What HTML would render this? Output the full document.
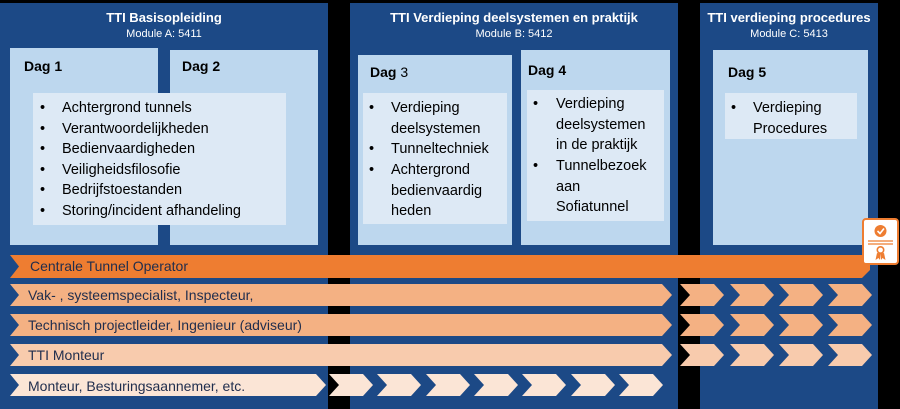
<!DOCTYPE html>
<html><head><style>
html,body{margin:0;padding:0;background:#000;}
svg{display:block;font-family:"Liberation Sans",sans-serif;}
</style></head><body>
<svg width="900" height="409" viewBox="0 0 900 409" xmlns="http://www.w3.org/2000/svg">
<rect width="900" height="409" fill="#000"/>
<!-- panels -->
<rect x="0" y="3" width="328" height="406" fill="#1c4986"/>
<rect x="350" y="3" width="328" height="406" fill="#1c4986"/>
<rect x="700" y="3" width="178" height="406" fill="#1c4986"/>
<g fill="#fff" text-anchor="middle">
<text x="164" y="22" font-size="13" font-weight="bold">TTI Basisopleiding</text>
<text x="164" y="37" font-size="11">Module A: 5411</text>
<text x="514" y="22" font-size="13" font-weight="bold">TTI Verdieping deelsystemen en praktijk</text>
<text x="514" y="37" font-size="11">Module B: 5412</text>
<text x="789" y="22" font-size="13" font-weight="bold">TTI verdieping procedures</text>
<text x="789" y="37" font-size="11">Module C: 5413</text>
</g>
<!-- dag boxes -->
<g fill="#bdd7ee">
<rect x="10" y="48" width="148" height="197"/>
<rect x="170" y="50" width="148" height="195"/>
<rect x="358" y="55" width="154" height="190"/>
<rect x="521" y="50" width="149" height="195"/>
<rect x="713" y="50" width="155" height="195"/>
</g>
<g fill="#dde9f5">
<rect x="33" y="93" width="253" height="132"/>
<rect x="363" y="93" width="144" height="131"/>
<rect x="527" y="90" width="137" height="131"/>
<rect x="725" y="93" width="132" height="46"/>
</g>
<g fill="#000" font-size="14" font-weight="bold">
<text x="24" y="71">Dag 1</text>
<text x="182" y="71">Dag 2</text>
<text x="370" y="77">Dag <tspan font-weight="normal">3</tspan></text>
<text x="528" y="75">Dag 4</text>
<text x="728" y="77">Dag 5</text>
</g>
<g fill="#000" font-size="14.5">
<g>
<text x="40" y="112">•</text><text x="62" y="112">Achtergrond tunnels</text>
<text x="40" y="133">•</text><text x="62" y="133">Verantwoordelijkheden</text>
<text x="40" y="153">•</text><text x="62" y="153">Bedienvaardigheden</text>
<text x="40" y="174">•</text><text x="62" y="174">Veiligheidsfilosofie</text>
<text x="40" y="194">•</text><text x="62" y="194">Bedrijfstoestanden</text>
<text x="40" y="215">•</text><text x="62" y="215">Storing/incident afhandeling</text>
</g>
<g>
<text x="369" y="112">•</text><text x="391" y="112">Verdieping</text>
<text x="391" y="133">deelsystemen</text>
<text x="369" y="153">•</text><text x="391" y="153">Tunneltechniek</text>
<text x="369" y="174">•</text><text x="391" y="174">Achtergrond</text>
<text x="391" y="195">bedienvaardig</text>
<text x="391" y="215">heden</text>
</g>
<g>
<text x="533" y="108">•</text><text x="556" y="108">Verdieping</text>
<text x="556" y="129">deelsystemen</text>
<text x="556" y="149">in de praktijk</text>
<text x="533" y="170">•</text><text x="556" y="170">Tunnelbezoek</text>
<text x="556" y="191">aan</text>
<text x="556" y="211">Sofiatunnel</text>
</g>
<g>
<text x="731" y="112">•</text><text x="753" y="112">Verdieping</text>
<text x="753" y="133">Procedures</text>
</g>
</g>
<!-- bars -->
<polygon points="10,255 870,255 870,270 862,278 10,278 19,266.5" fill="#ee7d31"/>
<g fill="#f4b183">
<polygon points="10,284 662,284 672,295 662,306 10,306 19,295"/>
<polygon points="10,314 662,314 672,325 662,336 10,336 19,325"/>
</g>
<polygon points="10,344 662,344 672,355 662,366 10,366 19,355" fill="#f8cbad"/>
<polygon points="10,374 316,374 326,385 316,396 10,396 19,385" fill="#fbe5d6"/>
<g fill="#f4b183" id="c1">
<polygon points="680,284 714,284 724,295 714,306 680,306 690,295"/>
<polygon points="730,284 764,284 774,295 764,306 730,306 740,295"/>
<polygon points="779,284 813,284 823,295 813,306 779,306 789,295"/>
<polygon points="828,284 862,284 872,295 862,306 828,306 838,295"/>
<polygon points="680,314 714,314 724,325 714,336 680,336 690,325"/>
<polygon points="730,314 764,314 774,325 764,336 730,336 740,325"/>
<polygon points="779,314 813,314 823,325 813,336 779,336 789,325"/>
<polygon points="828,314 862,314 872,325 862,336 828,336 838,325"/>
</g>
<g fill="#f8cbad">
<polygon points="680,344 714,344 724,355 714,366 680,366 690,355"/>
<polygon points="730,344 764,344 774,355 764,366 730,366 740,355"/>
<polygon points="779,344 813,344 823,355 813,366 779,366 789,355"/>
<polygon points="828,344 862,344 872,355 862,366 828,366 838,355"/>
</g>
<g fill="#fbe5d6">
<polygon points="329,374 363,374 373,385 363,396 329,396 339,385"/>
<polygon points="377,374 411,374 421,385 411,396 377,396 387,385"/>
<polygon points="426,374 460,374 470,385 460,396 426,396 436,385"/>
<polygon points="474,374 508,374 518,385 508,396 474,396 484,385"/>
<polygon points="522,374 556,374 566,385 556,396 522,396 532,385"/>
<polygon points="571,374 605,374 615,385 605,396 571,396 581,385"/>
<polygon points="619,374 653,374 663,385 653,396 619,396 629,385"/>
</g>
<g fill="#1f2d4d" font-size="14">
<text x="30" y="271">Centrale Tunnel Operator</text>
<text x="28" y="300">Vak- , systeemspecialist, Inspecteur,</text>
<text x="28" y="330">Technisch projectleider, Ingenieur (adviseur)</text>
<text x="28" y="360">TTI Monteur</text>
<text x="28" y="391">Monteur, Besturingsaannemer, etc.</text>
</g>
<!-- certificate icon -->
<rect x="863" y="219" width="35" height="45" rx="3" fill="#fff" stroke="#ee7d31" stroke-width="2"/>
<circle cx="880.5" cy="231" r="6" fill="#ee7d31"/>
<polyline points="877.5,231 880,233.5 884,228.5" fill="none" stroke="#fff" stroke-width="1.6"/>
<line x1="868" y1="241" x2="893" y2="241" stroke="#ee7d31" stroke-width="1.2"/>
<line x1="868" y1="244" x2="893" y2="244" stroke="#ee7d31" stroke-width="1.2"/>
<circle cx="880.5" cy="250" r="3.2" fill="none" stroke="#ee7d31" stroke-width="1.6"/>
<polygon points="877,253 875.5,260 878.5,258 880,260 880.5,253.5" fill="#ee7d31"/>
<polygon points="884,253 885.5,260 882.5,258 881,260 880.5,253.5" fill="#ee7d31"/>
</svg>
</body></html>
